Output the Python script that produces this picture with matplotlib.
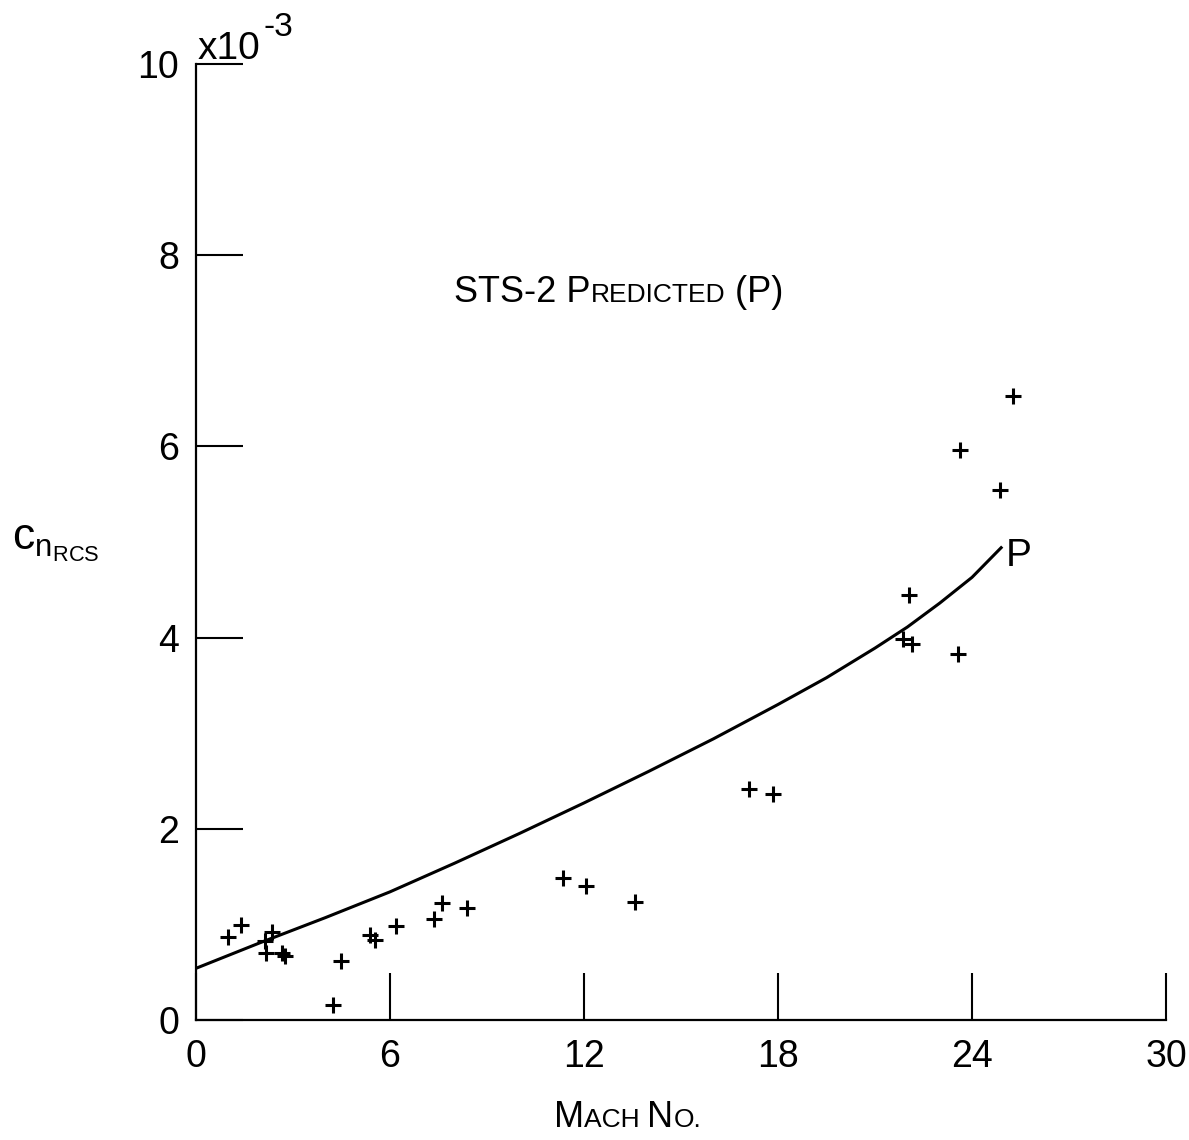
import matplotlib
matplotlib.use("Agg")
import matplotlib.pyplot as plt
from matplotlib.offsetbox import TextArea, HPacker, AnnotationBbox

# flight data (Mach number, Cn_RCS x 1e-3)
mach_flight = [1.0, 1.39, 2.34, 2.13, 2.17, 2.65, 2.75, 4.48, 4.25, 5.38, 5.54, 6.19,
               7.37, 7.6, 8.37, 11.34, 12.05, 13.59, 17.11, 17.85,
               25.26, 23.63, 24.87, 22.05, 21.88, 22.14, 23.58]
cn_flight = [0.87, 0.99, 0.92, 0.83, 0.70, 0.70, 0.67, 0.62, 0.16, 0.89, 0.84, 0.98,
             1.06, 1.22, 1.17, 1.49, 1.40, 1.23, 2.42, 2.36,
             6.53, 5.96, 5.54, 4.45, 3.98, 3.93, 3.83]

# STS-2 predicted curve
mach_pred = [0, 2, 4, 6, 8, 10, 12, 14, 16, 18, 19.5, 21, 22, 23, 24, 24.9]
cn_pred = [0.54, 0.81, 1.07, 1.34, 1.64, 1.95, 2.27, 2.60, 2.94, 3.30, 3.58, 3.89, 4.11, 4.36, 4.63, 4.94]

x_ticks = [0, 6, 12, 18, 24, 30]
y_ticks = [0, 2, 4, 6, 8, 10]

plt.rcParams['font.family'] = ['Liberation Sans', 'DejaVu Sans']
plt.rcParams['mathtext.fontset'] = 'custom'
plt.rcParams['mathtext.rm'] = 'Liberation Sans'

fig = plt.figure(figsize=(11.89, 11.40), dpi=100)
ax = fig.add_axes([0.1648, 0.1053, 0.8159, 0.8386])

ax.plot(mach_pred, cn_pred, color='black', lw=2.2)
ax.plot(mach_flight, cn_flight, linestyle='none', marker='+', color='black',
        markersize=12, markeredgewidth=2.2)

ax.set_xlim(0, 30)
ax.set_ylim(0, 10)
for s in ['top', 'right']:
    ax.spines[s].set_visible(False)
for s in ['left', 'bottom']:
    ax.spines[s].set_linewidth(1.6)

ax.set_xticks(x_ticks)
ax.set_yticks(y_ticks)
ax.tick_params(axis='both', direction='in', length=34, width=1.5, labelsize=27)
ax.tick_params(axis='y', pad=12)
ax.tick_params(axis='x', pad=14)

# multiplier and annotations
ax.text(0.05, 9.97, 'x10', fontsize=28, ha='left', va='bottom')
ax.text(2.1, 10.22, '-3', fontsize=24, ha='left', va='bottom')
ax.text(25.05, 4.85, 'P', fontsize=28, ha='left', va='center')


def small_caps(parts, xy, coords):
    boxes = [TextArea(t, textprops=dict(fontsize=sz, color='black')) for t, sz in parts]
    pack = HPacker(children=boxes, align='baseline', pad=0, sep=0)
    ab = AnnotationBbox(pack, xy, xycoords=coords, frameon=False,
                        box_alignment=(0, 0), pad=0)
    fig.add_artist(ab)


small_caps([('STS-2 P', 26), ('REDICTED', 19), (' (P)', 26)], (0.382, 0.728), 'figure fraction')
small_caps([('M', 26), ('ACH ', 19), ('N', 26), ('O.', 19)], (0.466, 0.004), 'figure fraction')

fig.text(0.01, 0.505, r'$\mathregular{c_{n_{RCS}}}$', fontsize=32, ha='left', va='bottom')

fig.savefig('out.png', dpi=100)
